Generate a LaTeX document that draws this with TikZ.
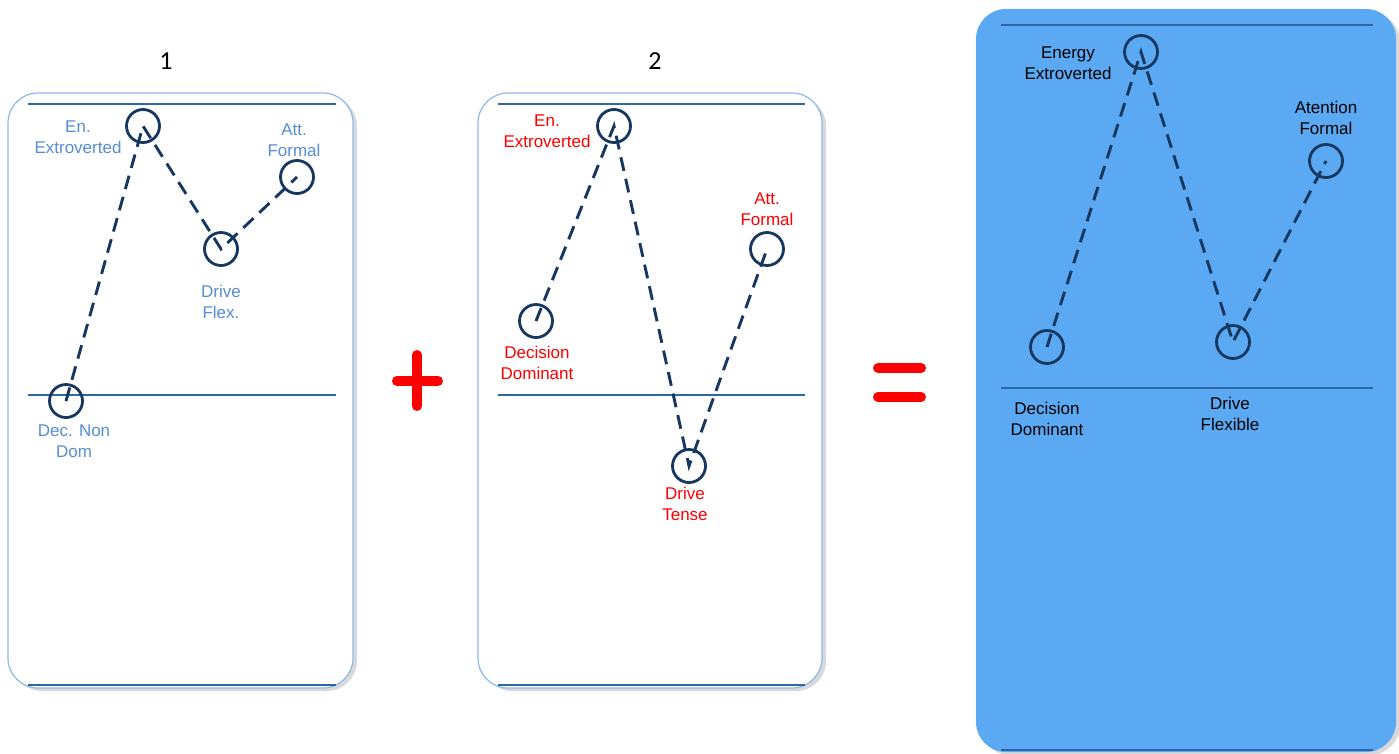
\documentclass[tikz,border=0pt]{standalone}
\usepackage{fontspec}
\setmainfont{Liberation Sans}
\newfontfamily\calib{Carlito}
\usetikzlibrary{shadows}
\definecolor{navy}{RGB}{22,56,96}
\definecolor{rule}{RGB}{46,104,164}
\definecolor{lblue}{RGB}{85,142,213}
\definecolor{frame}{RGB}{140,185,235}
\definecolor{fillb}{RGB}{90,169,242}
\tikzset{
  panel/.style={draw=frame, line width=1.2pt, rounded corners=30pt, fill=white,
    drop shadow={shadow xshift=4pt, shadow yshift=-3pt, opacity=0.3, fill=gray}},
  hrule/.style={draw=rule, line width=1.5pt},
  dot/.style={circle, draw=navy, line width=2.8pt, minimum size=33pt, inner sep=0pt},
  link/.style={draw=navy, line width=2.9pt, dash pattern=on 14pt off 8pt},
  lbl/.style={align=center, font=\fontsize{17}{20.5}\selectfont, inner sep=0pt},
  sign/.style={draw=red, line width=10pt, line cap=round},
  title/.style={font=\calib\fontsize{26}{30}\selectfont, inner sep=0pt},
}
\begin{document}
\begin{tikzpicture}[x=1pt,y=-1pt]
\useasboundingbox (0,0) rectangle (1399,753);
% panels
\path[panel] (8,93) rectangle (353,688);
\path[panel] (478,93) rectangle (822,688);
\path[panel, draw=none, fill=fillb] (976,9) rectangle (1396,752);
% titles
\node[title, anchor=base] (t1) at (166,69) {1};
\node[title, anchor=base] (t2) at (655,69) {2};
% rules
\draw[hrule] (28,104) -- (336,104);
\draw[hrule] (28,395) -- (336,395);
\draw[hrule, line width=2.2pt] (28,685) -- (336,685);
\draw[hrule] (498,104) -- (805,104);
\draw[hrule] (498,395) -- (805,395);
\draw[hrule, line width=2.2pt] (498,685) -- (805,685);
\draw[hrule] (1001,25) -- (1373,25);
\draw[hrule] (1001,388) -- (1373,388);
\draw[hrule, line width=2.2pt] (1001,750) -- (1373,750);
% panel 1
\node[dot] (a1) at (143,126) {};
\node[dot] (a2) at (221,249) {};
\node[dot] (a3) at (297,177) {};
\node[dot] (a4) at (66,401) {};
\draw[link] (a4.center) -- (a1.center) -- (a2.center) -- (a3.center);
\node[lbl, text=lblue] (la1) at (78,137) {En.\\Extroverted};
\node[lbl, text=lblue] (la3) at (294,140) {Att.\\Formal};
\node[lbl, text=lblue] (la2) at (221,302) {Drive\\Flex.};
\node[lbl, text=lblue] (la4) at (74,441) {Dec. Non\\Dom};
% panel 2
\node[dot] (b1) at (614,126) {};
\node[dot] (b2) at (536,321) {};
\node[dot] (b3) at (767,249) {};
\node[dot] (b4) at (689,466) {};
\draw[link] (b2.center) -- (b1.center) -- (b4.center) -- (b3.center);
\node[lbl, text=red] (lb1) at (547,131) {En.\\Extroverted};
\node[lbl, text=red] (lb3) at (767,209) {Att.\\Formal};
\node[lbl, text=red] (lb2) at (537,363) {Decision\\Dominant};
\node[lbl, text=red] (lb4) at (685,504) {Drive\\Tense};
% panel 3
\node[dot] (c1) at (1141,52) {};
\node[dot] (c2) at (1047,347) {};
\node[dot] (c3) at (1326,161) {};
\node[dot] (c4) at (1233,342) {};
\draw[link] (c2.center) -- (c1.center) -- (c4.center) -- (c3.center);
\node[lbl] (lc1) at (1068,63) {Energy\\Extroverted};
\node[lbl] (lc3) at (1326,118) {Atention\\Formal};
\node[lbl] (lc2) at (1047,419) {Decision\\Dominant};
\node[lbl] (lc4) at (1230,414) {Drive\\Flexible};
% signs
\coordinate (p1) at (397,381); \coordinate (p2) at (438,381);
\coordinate (p3) at (417,355); \coordinate (p4) at (417,406);
\draw[sign] (p1) -- (p2);
\draw[sign] (p3) -- (p4);
\coordinate (e1) at (878,368); \coordinate (e2) at (921,368);
\coordinate (e3) at (878,397); \coordinate (e4) at (921,397);
\draw[sign] (e1) -- (e2);
\draw[sign] (e3) -- (e4);
\end{tikzpicture}
\end{document}
